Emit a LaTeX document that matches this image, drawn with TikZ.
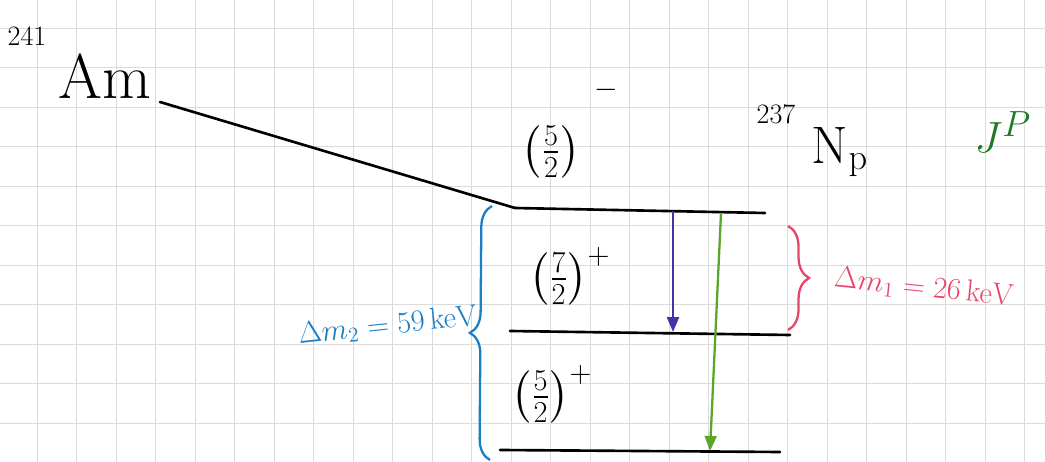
\documentclass[tikz,border=0pt]{standalone}
\usepackage{amsmath}
\usepackage{tikz}
\usetikzlibrary{arrows.meta,positioning,decorations.pathreplacing}
\definecolor{bracketblue}{HTML}{1A7FC4}
\definecolor{bracketred}{HTML}{E8456A}
\definecolor{spingreen}{HTML}{1E7A22}
\definecolor{gammapurple}{HTML}{4B2FA8}
\definecolor{gammagreen}{HTML}{5AA62A}

\begin{document}
\begin{tikzpicture}[x=0.02cm,y=-0.02cm,
  level/.style={line width=1.5pt,line cap=round},
  spin/.style={font=\fontsize{25}{27}\selectfont},
  mass/.style={font=\fontsize{16}{18}\selectfont},
  gammaline/.style={line width=1.3pt,-{Triangle[length=3mm,width=2.4mm]}},
  bracket/.style={line width=1.3pt,decorate,decoration={brace,amplitude=12pt}}]
  % Paper (1 unit = 1 px of the 1045x462 sheet)
  \fill[white] (0,0) rectangle (1045,462);
  \useasboundingbox (0,0) rectangle (1045,462);
  \foreach \g in {0,...,26} {
    \draw[gray!28,thin] ({-2.5+39.5*\g},0) -- ++(0,462);
  }
  \foreach \g in {0,...,11} {
    \draw[gray!28,thin] (0,{-11.5+39.5*\g}) -- ++(1045,0);
  }
  % Parent nucleus
  \node[mass] (amA) at (27,36) {241};
  \node[font=\fontsize{36}{38}\selectfont] (am) at (105,76) {Am};
  \coordinate (amlev) at (160,102);
  % Daughter levels
  \coordinate (L0a) at (515,208);
  \coordinate (L0b) at (765,213);
  \coordinate (L1a) at (510,331);
  \coordinate (L1b) at (790,335);
  \coordinate (L2a) at (500,450);
  \coordinate (L2b) at (780,452);
  \draw[level] (amlev) -- (L0a);
  \draw[level] (L0a) -- (L0b);
  \draw[level] (L1a) -- (L1b);
  \draw[level] (L2a) -- (L2b);
  % Spins and parities
  \node[spin] (s0) at (551,152) {$\left(\frac{5}{2}\right)$};
  \node[mass] (p0) at (606,90) {$-$};
  \node[spin] (s1) at (570,276) {$\left(\frac{7}{2}\right)^{+}$};
  \node[spin] (s2) at (552,394) {$\left(\frac{5}{2}\right)^{+}$};
  \node[mass] (npA) at (776,114) {237};
  \node[font=\fontsize{30}{32}\selectfont] (np) at (840,152) {N$_{\mathrm{p}}$};
  \node[spingreen,font=\fontsize{30}{32}\selectfont] (jp) at (1003,132) {$J^{P}$};
  % Gamma transitions
  \coordinate (g1s) at (673,211);
  \coordinate (g1e) at (673,332);
  \coordinate (g2s) at (721,213);
  \coordinate (g2e) at (710,451);
  \draw[gammaline,gammapurple] (g1s) -- (g1e);
  \draw[gammaline,gammagreen] (g2s) -- (g2e);
  % Energy gaps
  \coordinate (b2top) at (492,206);
  \coordinate (b2bot) at (490,460);
  \coordinate (b1top) at (788,226);
  \coordinate (b1bot) at (788,330);
  \draw[bracket,bracketblue] (b2bot) -- (b2top);
  \draw[bracket,bracketred] (b1top) -- (b1bot);
  \node[bracketblue,font=\fontsize{18}{20}\selectfont,rotate=6] (dm2) at (388,326) {$\Delta m_{2}=59\,\mathrm{keV}$};
  \node[bracketred,font=\fontsize{18}{20}\selectfont,rotate=-6,inner sep=1pt] (dm1) at (924,288) {$\Delta m_{1}=26\,\mathrm{keV}$};
\end{tikzpicture}
\end{document}
